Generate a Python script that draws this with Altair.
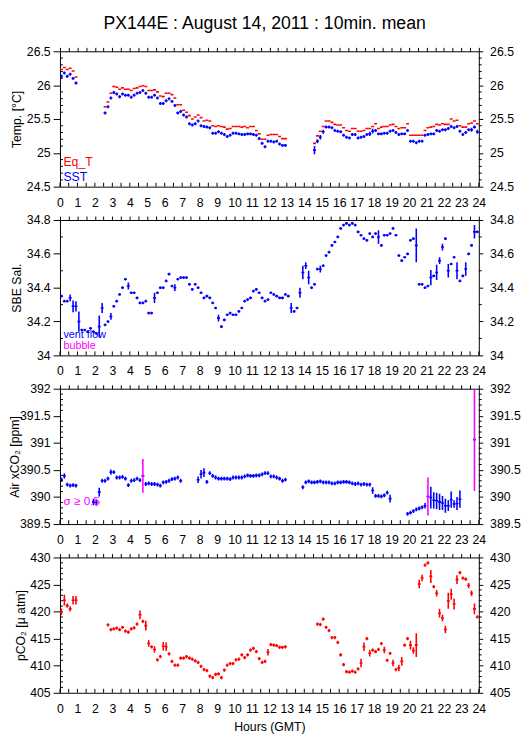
import altair as alt
import pandas as pd

TITLE = "PX144E : August 14, 2011 : 10min. mean"
FONT = "Liberation Sans"
RED, BLUE, MAG = "#ff0000", "#0000ff", "#ff00ff"
W, H = 427, 138
N = None

# 10-minute means, index i covers hours [i/6, (i+1)/6)
EQ_T = [26.23, 26.26, 26.23, 26.25, 26.21, 26.12, N, N, N, N, N, N,
        N, N, N, 25.68, 25.75, 25.88, 25.98, 25.97, 25.94, 25.96, 25.94, 25.94,
        25.92, 25.95, 25.96, 25.98, 25.99, 25.98, 25.92, 25.92, 25.93, 25.90, 25.84, 25.83,
        25.88, 25.88, 25.86, 25.81, 25.71, 25.71, 25.63, 25.60, 25.55, 25.50, 25.53, 25.56,
        25.52, 25.47, 25.48, 25.47, 25.40, 25.39, 25.40, 25.39, 25.38, 25.35, 25.36, 25.39,
        25.39, 25.39, 25.38, 25.39, 25.37, 25.39, 25.39, 25.33, 25.28, 25.20, 25.20, 25.26,
        25.27, 25.27, 25.27, 25.24, 25.21, 25.21, N, N, N, N, N, N,
        N, N, N, 25.14, 25.25, 25.32, 25.39, 25.47, 25.47, 25.45, 25.42, 25.41,
        25.41, 25.37, 25.33, 25.32, 25.36, 25.36, 25.32, 25.32, 25.33, 25.36, 25.36, 25.39,
        25.43, 25.36, 25.38, 25.39, 25.39, 25.41, 25.42, 25.39, 25.36, 25.37, 25.37, 25.43,
        25.26, 25.26, 25.26, 25.26, 25.26, 25.33, 25.37, 25.38, 25.39, 25.42, 25.41, 25.43,
        25.42, 25.42, 25.50, 25.47, 25.48, 25.40, 25.38, 25.38, 25.43, 25.44, 25.47, 25.43]

SST = [26.13, 26.18, 26.13, 26.16, 26.10, 26.03, N, N, N, N, N, N,
       N, N, N, 25.59, 25.68, 25.81, 25.89, 25.87, 25.83, 25.87, 25.85, 25.85,
       25.82, 25.85, 25.88, 25.89, 25.92, 25.88, 25.82, 25.82, 25.85, 25.81, 25.73, 25.73,
       25.77, 25.80, 25.76, 25.70, 25.59, 25.61, 25.56, 25.53, 25.43, 25.41, 25.43, 25.47,
       25.40, 25.39, 25.38, 25.37, 25.29, 25.29, 25.31, 25.29, 25.27, 25.24, 25.26, 25.29,
       25.29, 25.28, 25.27, 25.27, 25.28, 25.28, 25.27, 25.26, 25.21, 25.14, 25.09, 25.17,
       25.17, 25.16, 25.17, 25.13, 25.11, 25.11, N, N, N, N, N, N,
       N, N, N, 25.04, 25.17, 25.23, 25.31, 25.38, 25.38, 25.37, 25.33, 25.32,
       25.31, 25.26, 25.23, 25.22, 25.27, 25.27, 25.22, 25.23, 25.24, 25.27, 25.28, 25.32,
       25.33, 25.28, 25.28, 25.29, 25.29, 25.32, 25.33, 25.30, 25.27, 25.28, 25.28, 25.33,
       25.17, 25.17, 25.15, 25.17, 25.17, 25.26, 25.27, 25.28, 25.28, 25.33, 25.32, 25.34,
       25.34, 25.36, 25.39, 25.37, 25.39, 25.32, 25.27, 25.30, 25.34, 25.34, 25.38, 25.31]
SST_ERR = 0.022
SST_ERR_WIDE = {87: 0.06, 88: 0.03, 89: 0.035, 90: 0.03, 106: 0.03, 107: 0.035, 141: 0.03, 143: 0.03}

SAL = [34.35, 34.32, 34.32, 34.34, 34.29, 34.29, 34.20, 34.15, 34.15, 34.14, 34.16, 34.14,
       34.13, 34.17, 34.28, 34.18, 34.20, 34.23, 34.29, 34.32, 34.36, 34.40, 34.45, 34.41,
       34.37, 34.37, 34.34, 34.31, 34.31, 34.32, 34.25, 34.25, 34.34, 34.37, 34.40, 34.40,
       34.44, 34.48, 34.41, 34.40, 34.45, 34.46, 34.46, 34.46, 34.42, 34.39, 34.42, 34.40,
       34.37, 34.34, 34.35, 34.34, 34.31, 34.28, 34.22, 34.17, 34.21, 34.24, 34.25, 34.24,
       34.24, 34.26, 34.28, 34.32, 34.33, 34.34, 34.38, 34.39, 34.37, 34.34, 34.32, 34.33,
       34.37, 34.36, 34.35, 34.34, 34.34, 34.36, 34.35, 34.28, 34.26, 34.28, 34.37, 34.49,
       34.53, 34.46, 34.40, 34.42, 34.51, 34.51, 34.53, 34.59, 34.61, 34.65, 34.67, 34.70,
       34.75, 34.77, 34.78, 34.77, 34.78, 34.77, 34.73, 34.71, 34.69, 34.68, 34.72, 34.70,
       34.72, 34.70, 34.65, 34.71, 34.71, 34.72, 34.75, 34.71, 34.59, 34.56, 34.58, 34.60,
       34.68, 34.69, 34.65, 34.42, 34.42, 34.40, 34.41, 34.46, 34.47, 34.49, 34.56, 34.64,
       34.69, 34.50, 34.54, 34.58, 34.50, 34.44, 34.47, 34.51, 34.60, 34.65, 34.73, 34.73]
SAL_ERR = 0.008
SAL_ERR_WIDE = {3: 0.02, 4: 0.035, 5: 0.03, 6: 0.06, 13: 0.065, 14: 0.03, 17: 0.02,
                23: 0.02, 32: 0.03, 39: 0.02, 54: 0.02, 79: 0.03, 82: 0.03, 83: 0.04,
                84: 0.02, 85: 0.04, 89: 0.02, 109: 0.04, 122: 0.1, 127: 0.045, 129: 0.045,
                130: 0.02, 131: 0.02, 133: 0.04, 136: 0.05, 139: 0.04, 142: 0.04}

XCO2 = [390.32, 390.39, 390.23, 390.21, 390.22, 390.21, N, N, N, N, N, 389.91,
        389.90, 390.09, 390.30, 390.30, 390.34, 390.46, 390.46, 390.36, 390.36, 390.37, 390.34, 390.22,
        390.30, 390.31, 390.34, 390.31, 390.39, 390.24, 390.25, 390.24, 390.24, 390.23, 390.21, 390.27,
        390.28, 390.30, 390.33, 390.34, 390.36, 390.30, N, N, N, N, N, 390.32,
        390.42, 390.45, 390.28, 390.44, 390.39, 390.36, 390.34, 390.34, 390.34, 390.34, 390.33, 390.36,
        390.36, 390.36, 390.36, 390.38, 390.40, 390.39, 390.39, 390.40, 390.40, 390.42, 390.44, 390.44,
        390.38, 390.38, 390.36, 390.34, 390.30, 390.32, N, N, N, N, N, 390.18,
        390.27, 390.29, 390.27, 390.27, 390.28, 390.29, 390.27, 390.27, 390.27, 390.25, 390.25, 390.27,
        390.27, 390.28, 390.28, 390.27, 390.25, 390.24, 390.25, 390.23, 390.24, 390.23, 390.23, 390.12,
        390.02, 390.02, 390.01, 390.03, 390.08, 389.97, N, N, N, N, N, 389.69,
        389.71, 389.74, 389.77, 389.79, 389.81, 389.84, 390.01, 389.99, 389.94, 389.93, 389.91, 389.89,
        389.84, 389.84, 389.95, 389.87, 389.88, 389.96, N, N, N, N, 391.06, N]
XCO2_ERR = 0.035
XCO2_ERR_WIDE = {0: 0.04, 1: 0.05, 11: 0.06, 12: 0.06, 13: 0.08, 17: 0.05, 28: 0.31, 47: 0.06,
                 48: 0.08, 49: 0.08, 107: 0.06, 113: 0.07, 125: 0.05, 126: 0.35, 127: 0.2,
                 128: 0.15, 129: 0.15, 130: 0.15, 131: 0.13, 132: 0.13, 133: 0.1, 134: 0.15,
                 135: 0.07, 136: 0.12, 137: 0.16, 142: 0.95}
XCO2_FLAGGED = [28, 126, 142]

PCO2 = [419.98, 422.1, 421.1, 420.5, 422.1, 422.1, N, N, N, N, N, N,
        N, N, N, N, 417.56, 416.65, 416.8, 416.96, 416.65, 417.1, 416.4, 416.2,
        416.8, 417.0, 417.7, 419.4, 418.2, 417.4, 414.1, 413.5, 413.0, 411.1, 411.7, 413.6,
        413.5, 412.2, 410.8, 410.1, 410.1, 411.4, 411.4, 411.7, 411.4, 411.2, 410.9, 410.6,
        409.9, 409.3, 409.1, 408.1, 407.8, 408.4, 408.5, 407.8, 409.2, 410.1, 410.4, 410.4,
        411.1, 411.2, 412.0, 411.5, 412.0, 412.9, 413.2, 412.6, 411.3, 410.6, 410.8, 412.5,
        413.9, 413.8, 413.7, 413.4, 413.4, 413.5, N, N, N, N, N, N,
        N, N, N, N, 417.7, 417.6, 418.6, 417.1, 416.5, 415.2, 415.2, 414.3,
        412.0, 410.2, 408.9, 408.8, 409.0, 408.8, 409.4, 410.5, 413.5, 415.0, 412.3, 412.9,
        412.6, 413.0, 414.1, 412.9, 411.0, 412.3, 410.5, 409.3, 409.6, 410.8, 413.8, 415.0,
        413.8, 412.8, 413.8, 425.1, 426.2, 428.6, 429.0, 426.5, 424.6, 423.4, 419.7, 418.8,
        416.7, 422.0, 423.2, 421.4, 425.9, 427.2, 426.2, 426.0, 424.8, 423.4, 420.5, 419.0]
PCO2_ERR = 0.3
PCO2_ERR_WIDE = {0: 0.6, 1: 1.0, 2: 0.4, 3: 0.5, 4: 0.8, 5: 0.8, 27: 0.8, 29: 0.9, 30: 0.6,
                 32: 0.6, 35: 0.8, 36: 0.8, 71: 0.6, 103: 0.8, 104: 0.8, 106: 0.6, 111: 0.6,
                 114: 0.6, 116: 0.6, 117: 0.8, 120: 0.8, 121: 0.6, 122: 2.2, 123: 0.8,
                 124: 0.6, 127: 1.2, 129: 0.6, 130: 0.8, 131: 0.6, 132: 0.7, 133: 1.5,
                 134: 1.0, 135: 1.0, 136: 0.8, 140: 0.5, 141: 0.5, 142: 1.0}

HOUR_LABELS = list(range(25))
HALF_HOURS = [h / 2 for h in range(49)]


def frames(values, color, err=None, wide=None, flagged=()):
    dashes, bars = [], []
    for i, v in enumerate(values):
        if v is None:
            continue
        dashes.append({"t0": i / 6, "t1": (i + 1) / 6, "v": v, "col": color})
        if err is not None:
            e = wide.get(i, err)
            bars.append({"tc": (i + 0.5) / 6, "lo": v - e, "hi": v + e,
                         "col": MAG if i in flagged else color})
    return dashes, bars


def minor_values(lo, hi, step, major_step):
    out = []
    k = 1
    while lo + k * step < hi - 1e-9:
        val = round(lo + k * step, 4)
        if abs(val / major_step - round(val / major_step)) > 1e-6:
            out.append(val)
        k += 1
    return out


def panel(dashes, bars, ydom, ymajor, minor_step, major_step, ytitle, title_x, notes,
          note_size=12, bottom_title=False):
    xs = alt.Scale(domain=[0, 24], nice=False, zero=False)
    ys = alt.Scale(domain=ydom, nice=False, zero=False)
    dd = pd.DataFrame(dashes)
    bd = pd.DataFrame(bars)
    xkw = dict(values=HOUR_LABELS, ticks=False, labelPadding=10, labelFlush=False,
               labelOverlap=False, format="d", grid=False, domain=False)
    if bottom_title:
        xkw.update(title="Hours (GMT)", titlePadding=6, titleFontSize=12.5)
    else:
        xkw.update(title=None)
    x_bottom = alt.Axis(**xkw)
    x_top = alt.Axis(orient="top", values=HALF_HOURS, labels=False, ticks=True, tickSize=4,
                     title=None, grid=False, domain=False)
    y_left = alt.Axis(values=ymajor, tickSize=7, labelPadding=3, grid=False, domain=False,
                      format="~g", labelFlush=False, labelOverlap=False, title=ytitle,
                      titleX=title_x, titleBaseline="middle", titleFontSize=12.5)
    y_right = alt.Axis(orient="right", values=ymajor, tickSize=4, labelPadding=7, grid=False,
                       format="~g", domain=False, labelFlush=False, labelOverlap=False,
                       title=None)

    dash_layer = alt.Chart(dd).mark_rule(strokeWidth=1.6, clip=True).encode(
        x=alt.X("t0:Q", scale=xs, axis=x_bottom),
        x2="t1:Q",
        y=alt.Y("v:Q", scale=ys, axis=y_left),
        color=alt.Color("col:N", scale=None),
    )
    mirror = alt.Chart(dd).mark_point(opacity=0).encode(
        x=alt.X("t0:Q", scale=xs, axis=x_top),
        y=alt.Y("v:Q", scale=ys, axis=y_right),
    )
    layers = [dash_layer, mirror]
    if len(bd):
        layers.append(alt.Chart(bd).mark_rule(strokeWidth=1.6, clip=True).encode(
            x=alt.X("tc:Q", scale=xs, axis=None),
            y=alt.Y("lo:Q", scale=ys, axis=None),
            y2="hi:Q",
            color=alt.Color("col:N", scale=None),
        ))
    mins = pd.DataFrame({"m": minor_values(ydom[0], ydom[1], minor_step, major_step)})
    layers.append(alt.Chart(mins).mark_rule(color="black").encode(
        y=alt.Y("m:Q", scale=ys, axis=None), x=alt.value(0), x2=alt.value(3)))
    layers.append(alt.Chart(mins).mark_rule(color="black").encode(
        y=alt.Y("m:Q", scale=ys, axis=None), x=alt.value(W), x2=alt.value(W + 3)))
    hh = pd.DataFrame({"h": HALF_HOURS})
    layers.append(alt.Chart(hh).mark_rule(color="black").encode(
        x=alt.X("h:Q", scale=xs, axis=None), y=alt.value(H), y2=alt.value(H - 4)))
    for text, color, ypix in notes:
        layers.append(alt.Chart(pd.DataFrame({"t": [text]})).mark_text(
            align="left", baseline="alphabetic", font=FONT, fontSize=note_size, color=color
        ).encode(x=alt.value(3.5), y=alt.value(ypix), text="t:N"))
    return alt.layer(*layers).resolve_scale(x="shared", y="shared").resolve_axis(
        x="independent", y="independent").properties(width=W, height=H)


d_eq, _ = frames(EQ_T, RED)
d_sst, b_sst = frames(SST, BLUE, SST_ERR, SST_ERR_WIDE)
p1 = panel(d_eq + d_sst, b_sst, [24.5, 26.5], [24.5, 25, 25.5, 26, 26.5], 0.1, 0.5,
           "Temp. [°C]", -44, [("Eq_T", RED, 117), ("SST", BLUE, 132)], note_size=12.5)

d_sal, b_sal = frames(SAL, BLUE, SAL_ERR, SAL_ERR_WIDE)
p2 = panel(d_sal, b_sal, [34.0, 34.8], [34.0, 34.2, 34.4, 34.6, 34.8], 0.1, 0.2,
           "SBE Sal.", -44, [("vent flow", BLUE, 120), ("bubble", MAG, 132)], note_size=11)

d_x, b_x = frames(XCO2, BLUE, XCO2_ERR, XCO2_ERR_WIDE, XCO2_FLAGGED)
p3 = panel(d_x, b_x, [389.5, 392], [389.5, 390, 390.5, 391, 391.5, 392], 0.1, 0.5,
           "Air xCO₂ [ppm]", -46, [("σ ≥ 0.5", MAG, 119)])

d_p, b_p = frames(PCO2, RED, PCO2_ERR, PCO2_ERR_WIDE)
p4 = panel(d_p, b_p, [405, 430], [405, 410, 415, 420, 425, 430], 1, 5,
           "pCO₂ [μ atm]", -40, [], bottom_title=True)

chart = alt.vconcat(p1, p2, p3, p4, spacing=34, bounds="flush").properties(
    title=alt.Title(TITLE, font=FONT, fontSize=18, fontWeight="normal", anchor="middle",
                    color="black", offset=12),
    padding={"left": 0, "top": 0, "right": 0, "bottom": 0},
).configure_view(stroke="black", strokeWidth=1).configure_axis(
    labelFont=FONT, labelFontSize=12.5, labelColor="black", tickColor="black",
    titleFont=FONT, titleFontWeight="normal", titleColor="black",
)

chart.save("out.html", embed_options={"renderer": "svg", "actions": False})
